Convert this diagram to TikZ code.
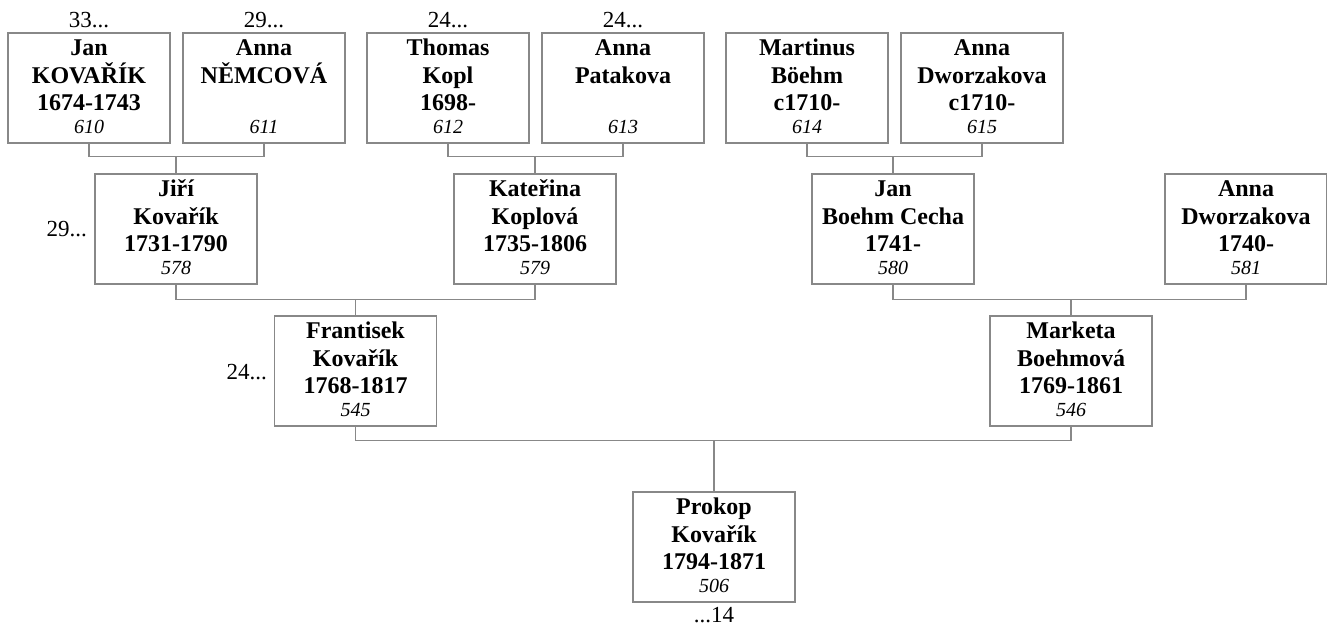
\documentclass[tikz,border=0pt]{standalone}
\usepackage{fontspec}
\setmainfont{Liberation Serif}
\definecolor{lc}{RGB}{136,136,136}
\tikzset{
  pbx/.style={draw=lc, line width=1.3pt, minimum width=162pt, minimum height=110pt, inner sep=0pt},
  nm/.style={anchor=base, inner sep=0pt, font=\fontsize{24}{28}\selectfont\bfseries},
  num/.style={anchor=base, inner sep=0pt, font=\fontsize{20}{24}\selectfont\itshape},
  refl/.style={anchor=base, inner sep=0pt, font=\fontsize{23}{27}\selectfont},
  ln/.style={draw=lc, line width=1.3pt},
}
% id, center x, top y, line1, line2, line3, number
\newcommand\pthree[7]{%
  \node[pbx] (#1) at (#2,{-(#3)-55}) {};
  \node[nm] (#1a) at (#2,{-(#3)-22.7}) {#4};
  \node[nm] (#1b) at (#2,{-(#3)-50}) {#5};
  \node[nm] (#1c) at (#2,{-(#3)-77}) {#6};
  \node[num] (#1n) at (#2,{-(#3)-100.3}) {#7};
}
\newcommand\ptwo[6]{%
  \node[pbx] (#1) at (#2,{-(#3)-55}) {};
  \node[nm] (#1a) at (#2,{-(#3)-22.7}) {#4};
  \node[nm] (#1b) at (#2,{-(#3)-50}) {#5};
  \node[num] (#1n) at (#2,{-(#3)-100.3}) {#6};
}
\begin{document}
\begin{tikzpicture}[x=1pt,y=1pt]
\useasboundingbox (0,0) rectangle (1327,-626);
% row 1
\pthree{jan}{89}{33}{Jan}{KOVAŘÍK}{1674-1743}{610}
\ptwo{anm}{264}{33}{Anna}{NĚMCOVÁ}{611}
\pthree{tho}{448}{33}{Thomas}{Kopl}{1698-}{612}
\ptwo{apa}{623}{33}{Anna}{Patakova}{613}
\pthree{mar}{807}{33}{Martinus}{Böehm}{c1710-}{614}
\pthree{adw}{982}{33}{Anna}{Dworzakova}{c1710-}{615}
% row 2
\pthree{jir}{176}{174}{Jiří}{Kovařík}{1731-1790}{578}
\pthree{kat}{535}{174}{Kateřina}{Koplová}{1735-1806}{579}
\pthree{jbc}{893}{174}{Jan}{Boehm Cecha}{1741-}{580}
\pthree{adx}{1246}{174}{Anna}{Dworzakova}{1740-}{581}
% row 3
\pthree{fra}{355.5}{316}{Frantisek}{Kovařík}{1768-1817}{545}
\pthree{mkb}{1071}{316}{Marketa}{Boehmová}{1769-1861}{546}
% row 4
\pthree{pro}{714}{492}{Prokop}{Kovařík}{1794-1871}{506}
% reference labels
\node[refl] (r33) at (89,-28) {33...};
\node[refl] (r29a) at (264,-28) {29...};
\node[refl] (r24a) at (448,-28) {24...};
\node[refl] (r24b) at (623,-28) {24...};
\node[refl, anchor=base east] (r29b) at (87,-236) {29...};
\node[refl, anchor=base east] (r24c) at (267,-379) {24...};
\node[refl] (r14) at (714,-622) {...14};
% connectors
\coordinate (b1) at ([yshift=17pt]jir.north);
\coordinate (b2) at ([yshift=17pt]kat.north);
\coordinate (b3) at ([yshift=17pt]jbc.north);
\coordinate (b4) at ([yshift=16pt]fra.north);
\coordinate (b5) at ([yshift=16pt]mkb.north);
\coordinate (b6) at ([yshift=51pt]pro.north);
\draw[ln] (jan.south) |- (b1) -| (anm.south);
\draw[ln] (b1) -- (jir.north);
\draw[ln] (tho.south) |- (b2) -| (apa.south);
\draw[ln] (b2) -- (kat.north);
\draw[ln] (mar.south) |- (b3) -| (adw.south);
\draw[ln] (b3) -- (jbc.north);
\draw[ln] (jir.south) |- (b4) -| (kat.south);
\draw[ln] (b4) -- (fra.north);
\draw[ln] (jbc.south) |- (b5) -| (adx.south);
\draw[ln] (b5) -- (mkb.north);
\draw[ln] (fra.south) |- (b6) -| (mkb.south);
\draw[ln] (b6) -- (pro.north);
\end{tikzpicture}
\end{document}
